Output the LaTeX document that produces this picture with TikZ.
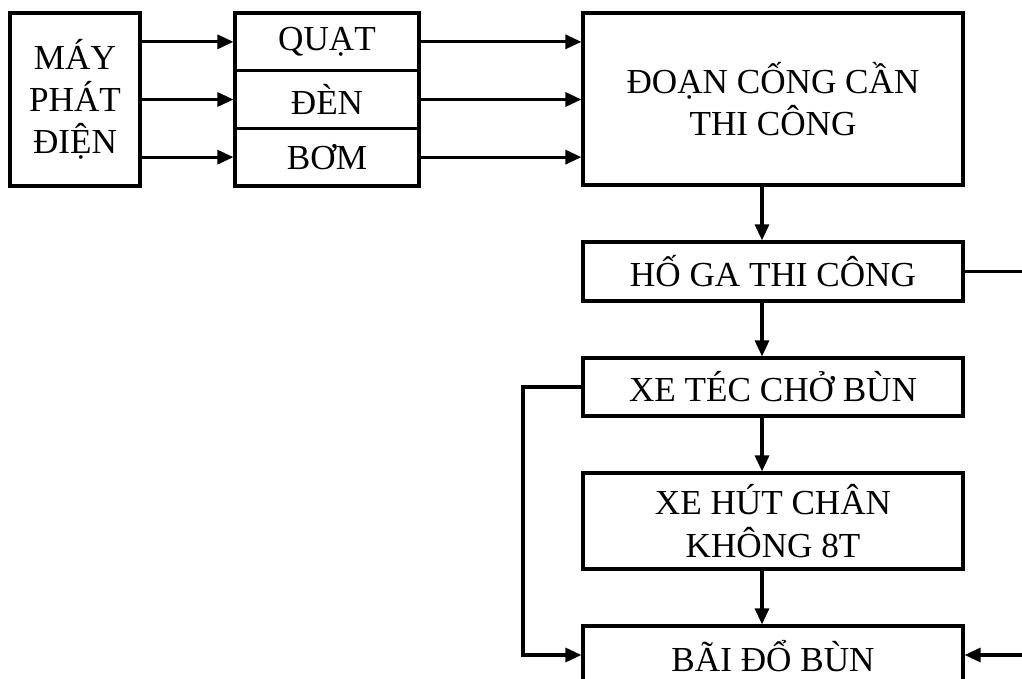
\documentclass[tikz,border=0pt]{standalone}
\usepackage{fontspec}
\setmainfont{Liberation Serif}
\usetikzlibrary{arrows.meta, calc}

\begin{document}
\begin{tikzpicture}[>={Triangle[length=3.2mm, width=2.8mm]}, line width=1.8pt,
    every node/.style={font=\fontsize{20}{24}\selectfont},
    box/.style={draw, align=center, inner sep=0pt}]
  \useasboundingbox (0,0) rectangle (20.44,-13.58);
  \node[box, minimum width=2.6cm, minimum height=3.46cm] (gen) at (1.5,-1.99) {MÁY\\PHÁT\\ĐIỆN};
  \node[box, minimum width=3.68cm, minimum height=1.153cm] (quat) at (6.54,-0.837) {QUẠT};
  \node[box, minimum width=3.68cm, minimum height=1.153cm] (den) at (6.54,-1.99) {ĐÈN};
  \node[box, minimum width=3.68cm, minimum height=1.153cm] (bom) at (6.54,-3.143) {BƠM};
  \node[box, minimum width=7.6cm, minimum height=3.44cm] (doan) at (15.46,-1.98) {ĐOẠN CỐNG CẦN\\THI CÔNG};
  \node[box, minimum width=7.6cm, minimum height=1.18cm] (hoga) at (15.46,-5.43) {HỐ GA THI CÔNG};
  \node[box, minimum width=7.6cm, minimum height=1.16cm] (xetec) at (15.46,-7.74) {XE TÉC CHỞ BÙN};
  \node[box, minimum width=7.6cm, minimum height=1.92cm] (xehut) at (15.46,-10.42) {XE HÚT CHÂN\\KHÔNG 8T};
  \node[box, minimum width=7.6cm, minimum height=1.2cm] (baido) at (15.46,-13.12) {BÃI ĐỔ BÙN};
  \coordinate (hogaout) at (20.44,-5.43);
  \coordinate (baidoin) at (20.44,-13.1);
  \coordinate (loop) at (10.46,-13.1);
  % generator to the three loads
  \draw[->] (gen.east |- quat.west) -- (quat.west);
  \draw[->] (gen.east |- den.west) -- (den.west);
  \draw[->] (gen.east |- bom.west) -- (bom.west);
  \draw[->] (quat.east) -- (quat.east -| doan.west);
  \draw[->] (den.east) -- (den.east -| doan.west);
  \draw[->] (bom.east) -- (bom.east -| doan.west);
  % main chain
  \draw[->] ([xshift=-2.2mm]doan.south) -- ([xshift=-2.2mm]hoga.north);
  \draw[->] ([xshift=-2.2mm]hoga.south) -- ([xshift=-2.2mm]xetec.north);
  \draw[->] ([xshift=-2.2mm]xetec.south) -- ([xshift=-2.2mm]xehut.north);
  \draw[->] ([xshift=-2.2mm]xehut.south) -- ([xshift=-2.2mm]baido.north);
  \draw (hoga.east) -- (hogaout);
  \draw[->] (baidoin) -- (baidoin -| baido.east);
  \draw[->] (xetec.west) -| (loop) -- (loop -| baido.west);
\end{tikzpicture}
\end{document}
